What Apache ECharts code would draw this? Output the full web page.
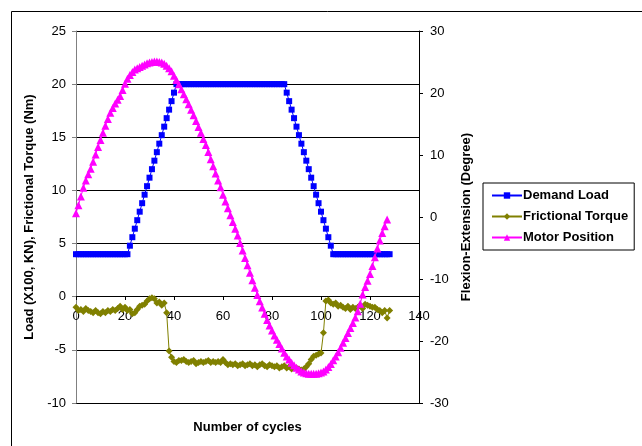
<!DOCTYPE html>
<html>
<head>
<meta charset="utf-8">
<script src="https://cdn.jsdelivr.net/npm/echarts@6/dist/echarts.min.js"></script>
<style>
  html, body { margin: 0; padding: 0; background: #fff; }
  #app { width: 642px; height: 446px; }
</style>
</head>
<body>
<div id="app"></div>
<script>
// cycle 0 .. n, one value per cycle
const demandLoad = [
  4, 4, 4, 4, 4, 4, 4, 4, 4, 4, 4, 4, 4, 4, 4, 4, 4, 4, 4, 4, 4, 4,
  4.8, 5.6, 6.4, 7.2, 8, 8.8, 9.6, 10.4, 11.2, 12, 12.8, 13.6, 14.4, 15.2, 16, 16.8, 17.6, 18.4, 19.2, 20,
  20, 20, 20, 20, 20, 20, 20, 20, 20, 20, 20, 20, 20, 20, 20, 20, 20, 20, 20, 20, 20, 20,
  20, 20, 20, 20, 20, 20, 20, 20, 20, 20, 20, 20, 20, 20, 20, 20, 20, 20, 20, 20, 20, 20,
  19.2, 18.4, 17.6, 16.8, 16, 15.2, 14.4, 13.6, 12.8, 12, 11.2, 10.4, 9.6, 8.8, 8, 7.2, 6.4, 5.6, 4.8, 4,
  4, 4, 4, 4, 4, 4, 4, 4, 4, 4, 4, 4, 4, 4, 4, 4, 4, 4, 4, 4, 4, 4, 4
];

const frictionalTorque = [
  -1.0, -1.3, -1.2, -1.4, -1.1, -1.3, -1.4, -1.5, -1.3, -1.5, -1.6, -1.4, -1.5, -1.3, -1.4, -1.2, -1.3, -1.1, -0.9, -1.2,
  -1.0, -1.3, -1.2, -1.6, -1.5, -1.2, -0.9, -0.8, -0.7, -0.4, -0.2, -0.1, -0.2, -0.6, -0.5, -0.8, -0.6, -1.5, -5.1, -5.7,
  -6.1, -6.2, -6.0, -6.0, -5.9, -6.1, -6.2, -6.1, -6.0, -6.3, -6.2, -6.1, -6.2, -6.1, -6.0, -6.2, -6.1, -6.2, -6.1, -6.2,
  -5.9, -6.2, -6.4, -6.3, -6.4, -6.3, -6.5, -6.4, -6.3, -6.5, -6.4, -6.3, -6.5, -6.4, -6.6, -6.4, -6.3, -6.5, -6.6, -6.4,
  -6.5, -6.6, -6.5, -6.7, -6.6, -6.5, -6.7, -6.6, -6.8, -6.7, -6.7, -6.8, -6.9, -6.8, -6.6, -6.3, -5.9, -5.6, -5.5, -5.4,
  -5.3, -3.4, -0.4, -0.3, -0.6, -0.7, -0.6, -0.9, -0.8, -1.0, -1.1, -0.9, -1.2, -1.0, -1.1, -1.0, -0.8, -1.1, -0.7, -0.8,
  -0.9, -1.0, -1.0, -1.2, -1.3, -1.5, -1.3, -2.0, -1.3
];

const motorPosition = [
  0.6, 1.9, 3.3, 4.7, 5.9, 6.9, 7.8, 8.9, 10.1, 11.3, 12.4, 13.6, 14.7, 15.8, 16.8, 17.6, 18.3, 18.9, 19.5, 20.5,
  21.5, 22.3, 22.9, 23.4, 23.8, 24.0, 24.2, 24.4, 24.6, 24.8, 24.9, 25.0, 25.1, 25.1, 25.0, 24.9, 24.7, 24.4, 24.0, 23.5,
  22.8, 22.1, 21.4, 20.6, 19.8, 19.0, 18.2, 17.3, 16.4, 15.5, 14.5, 13.6, 12.6, 11.6, 10.5, 9.3, 8.2, 7.0, 5.9, 4.8,
  3.6, 2.5, 1.4, 0.3, -0.8, -1.9, -3.0, -4.2, -5.4, -6.6, -7.8, -9.0, -10.2, -11.4, -12.6, -13.6, -14.6, -15.6, -16.6, -17.5,
  -18.3, -19.1, -19.8, -20.5, -21.2, -21.9, -22.5, -23.0, -23.5, -23.9, -24.3, -24.6, -24.9, -25.1, -25.2, -25.3, -25.3, -25.3, -25.3, -25.2,
  -25.1, -24.9, -24.6, -24.2, -23.7, -23.1, -22.5, -21.8, -21.1, -20.3, -19.5, -18.7, -17.9, -17.1, -16.2, -15.2, -14.0, -12.5, -11.3, -10.3,
  -9.2, -7.9, -6.5, -5.1, -3.8, -2.6, -1.5, -0.4
];

const seriesNames = ["Demand Load", "Frictional Torque", "Motor Position"];

function withCycles(values) {
  return values.map((v, i) => [i, v]);
}

const font = "Liberation Sans, Arial, sans-serif";

const chart = echarts.init(document.getElementById("app"), null, { renderer: "canvas" });

chart.setOption({
  backgroundColor: "#fff",
  animation: false,
  textStyle: { fontFamily: font },
  graphic: [
    {
      type: "rect",
      left: 9,
      top: 9,
      shape: { width: 700, height: 500 },
      style: { fill: "none", stroke: "#000", lineWidth: 1 },
      z: -10
    }
  ],
  grid: {
    left: 76,
    right: 223,
    top: 31,
    bottom: 43,
    containLabel: false,
    outerBoundsMode: "none"
  },
  legend: {
    orient: "vertical",
    left: 483,
    top: 183,
    padding: [6, 6, 6, 8],
    itemGap: 8,
    itemWidth: 30,
    itemHeight: 8,
    backgroundColor: "#fff",
    borderColor: "#000",
    borderWidth: 1,
    borderRadius: 0,
    textStyle: { fontFamily: font, fontSize: 13, fontWeight: "bold", color: "#000", padding: [0, 0, 0, -4] },
    data: seriesNames
  },
  xAxis: {
    type: "value",
    position: "bottom",
    // the axis crosses the left scale at 0 (plot bottom is -10, so 10/35 of 372 px up)
    offset: -107,
    min: 0,
    max: 140,
    interval: 20,
    name: "Number of cycles",
    nameLocation: "middle",
    nameGap: 125,
    nameTextStyle: { fontFamily: font, fontSize: 13, fontWeight: "bold", color: "#000" },
    axisLine: { onZero: false, lineStyle: { color: "#000", width: 1 } },
    axisTick: { show: true, length: 4, lineStyle: { color: "#000" } },
    axisLabel: { fontFamily: font, fontSize: 13, color: "#000", margin: 14 },
    splitLine: { show: false }
  },
  yAxis: [
    {
      type: "value",
      position: "left",
      min: -10,
      max: 25,
      interval: 5,
      name: "Load (X100, KN), Frictional Torque (Nm)",
      nameLocation: "middle",
      nameGap: 37,
      nameRotate: 90,
      nameTextStyle: { fontFamily: font, fontSize: 13, fontWeight: "bold", color: "#000" },
      axisLine: { show: true, onZero: false, lineStyle: { color: "#808080", width: 1 } },
      axisTick: { show: true, length: 4, lineStyle: { color: "#808080" } },
      axisLabel: { fontFamily: font, fontSize: 13, color: "#000", margin: 10 },
      splitLine: { show: true, lineStyle: { color: "#000", width: 1 } }
    },
    {
      type: "value",
      position: "right",
      min: -30,
      max: 30,
      interval: 10,
      name: "Flexion-Extension (Degree)",
      nameLocation: "middle",
      nameGap: 38,
      nameRotate: 90,
      nameTextStyle: { fontFamily: font, fontSize: 13, fontWeight: "bold", color: "#000" },
      axisLine: { show: true, onZero: false, lineStyle: { color: "#000", width: 1 } },
      axisTick: { show: true, length: 4, lineStyle: { color: "#000" } },
      axisLabel: { fontFamily: font, fontSize: 13, color: "#000", margin: 11 },
      splitLine: { show: false }
    }
  ],
  series: [
    {
      name: seriesNames[0],
      type: "line",
      yAxisIndex: 0,
      symbol: "rect",
      symbolSize: 6,
      showAllSymbol: true,
      color: "#0000ff",
      lineStyle: { width: 1, color: "#0000ff" },
      itemStyle: { color: "#0000ff" },
      data: withCycles(demandLoad),
      z: 3
    },
    {
      name: seriesNames[1],
      type: "line",
      yAxisIndex: 0,
      symbol: "diamond",
      symbolSize: 7,
      showAllSymbol: true,
      color: "#808000",
      lineStyle: { width: 1, color: "#808000" },
      itemStyle: { color: "#808000" },
      data: withCycles(frictionalTorque),
      z: 4
    },
    {
      name: seriesNames[2],
      type: "line",
      yAxisIndex: 1,
      symbol: "triangle",
      symbolSize: 8,
      showAllSymbol: true,
      color: "#ff00ff",
      lineStyle: { width: 1, color: "#ff00ff" },
      itemStyle: { color: "#ff00ff" },
      data: withCycles(motorPosition),
      z: 5
    }
  ]
});
</script>
</body>
</html>
